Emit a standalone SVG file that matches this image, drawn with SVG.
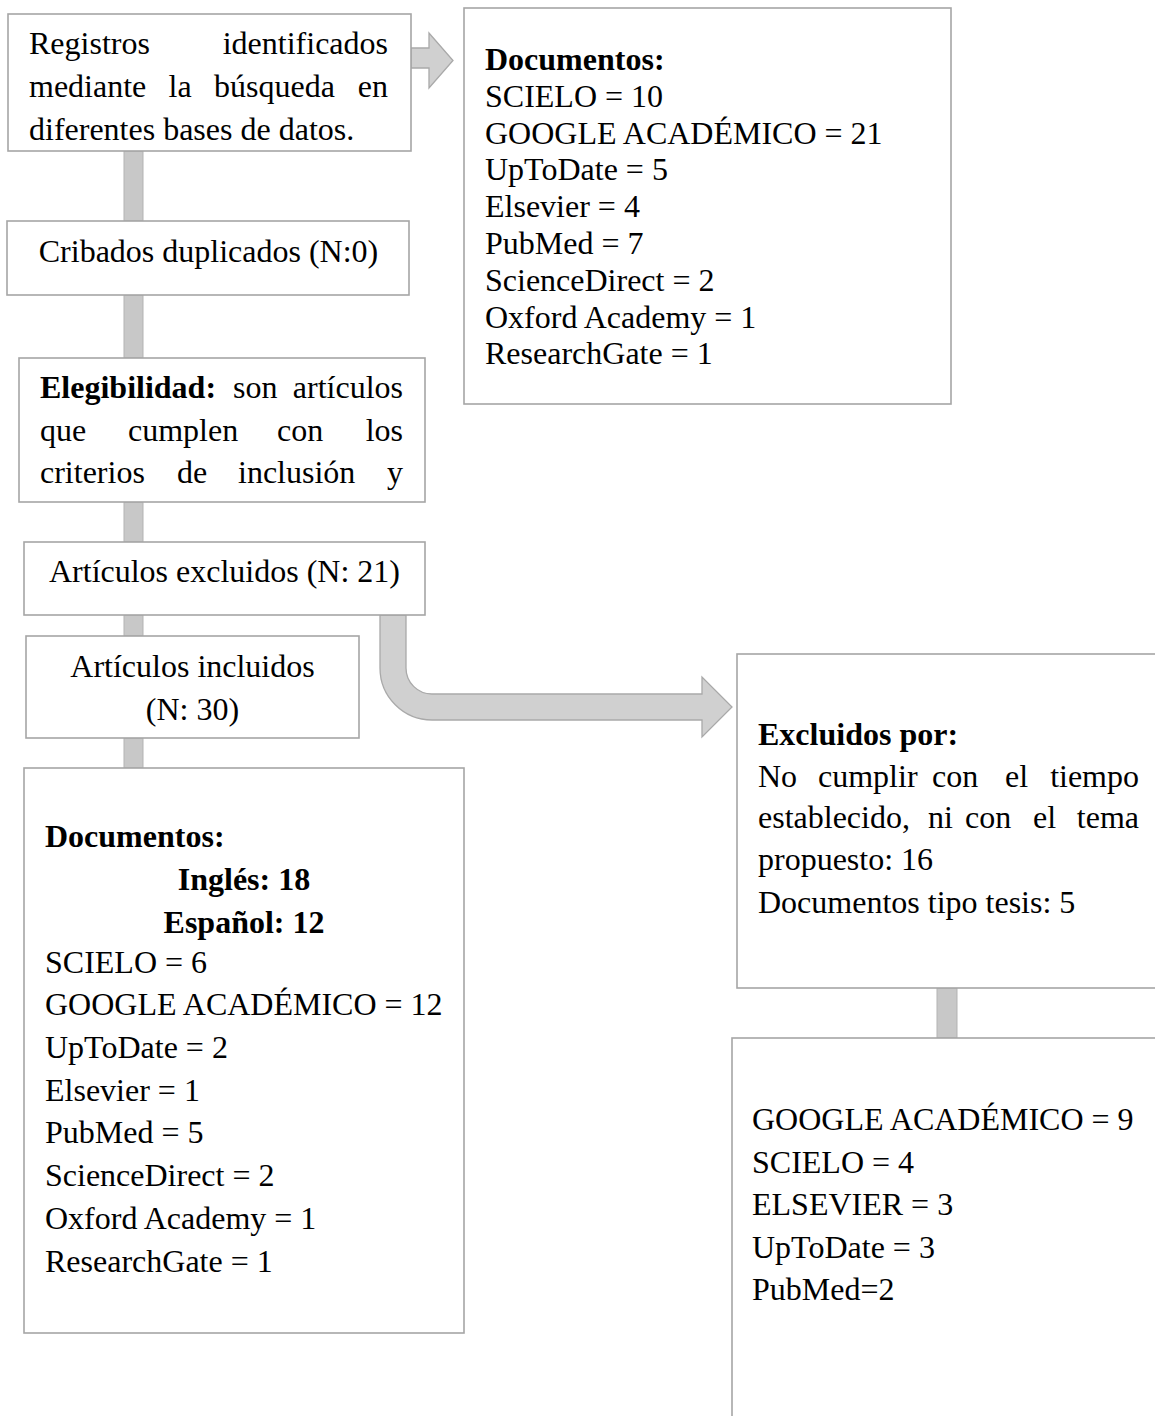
<svg xmlns="http://www.w3.org/2000/svg" width="1155" height="1416" viewBox="0 0 1155 1416">
<style>
.box{fill:#fff;stroke:#a6a6a6;stroke-width:1.6}
.bar{fill:#c8c8c8;stroke:#b3b3b3;stroke-width:1}
.arrow{fill:#d0d0d0;stroke:#a9a9a9;stroke-width:1.3;stroke-linejoin:miter}
text{font-family:"Liberation Serif","Times New Roman",serif;font-size:32px;fill:#000}
.b{font-weight:bold}
.m{text-anchor:middle}
.e{text-anchor:end}
</style>
<rect width="1155" height="1416" fill="#fff"/>
<g id="connectors">
<rect class="bar" x="124" y="151" width="19" height="70"/>
<rect class="bar" x="124" y="295" width="19" height="63"/>
<rect class="bar" x="124" y="502" width="19" height="40"/>
<rect class="bar" x="124" y="615" width="19" height="21"/>
<rect class="bar" x="124" y="738" width="19" height="30"/>
<rect class="bar" x="937" y="988" width="20" height="50"/>
<path class="arrow" d="M411 48 H429 V33 L453 60.5 L429 88 V68 H411 Z"/>
<path class="arrow" d="M380 615 V668 A52 52 0 0 0 432 720 H702 V737 L732 707 L702 677 V694 H432 A26 26 0 0 1 406 668 V615 Z"/>
</g>
<g id="node-registros">
<rect class="box" x="8" y="14" width="403" height="137"/>
<text x="29" y="54">Registros</text>
<text class="e" x="388" y="54">identificados</text>
<text x="29" y="97">mediante</text>
<text x="168.5" y="97">la</text>
<text x="214" y="97">búsqueda</text>
<text class="e" x="388" y="97">en</text>
<text x="29" y="140">diferentes bases de datos.</text>
</g>
<g id="node-documentos-top">
<rect class="box" x="464" y="8" width="487" height="396"/>
<text class="b" x="485" y="70">Documentos:</text>
<text x="485" y="107">SCIELO = 10</text>
<text x="485" y="144">GOOGLE ACADÉMICO = 21</text>
<text x="485" y="180">UpToDate = 5</text>
<text x="485" y="217">Elsevier = 4</text>
<text x="485" y="254">PubMed = 7</text>
<text x="485" y="291">ScienceDirect = 2</text>
<text x="485" y="328">Oxford Academy = 1</text>
<text x="485" y="364">ResearchGate = 1</text>
</g>
<g id="node-cribados">
<rect class="box" x="7" y="221" width="402" height="74"/>
<text class="m" x="208.5" y="262">Cribados duplicados (N:0)</text>
</g>
<g id="node-elegibilidad">
<rect class="box" x="19" y="358" width="406" height="144"/>
<text class="b" x="40" y="398">Elegibilidad:</text>
<text x="233" y="398">son</text>
<text class="e" x="403" y="398">artículos</text>
<text x="40" y="441">que</text>
<text x="128" y="441">cumplen</text>
<text x="277" y="441">con</text>
<text class="e" x="403" y="441">los</text>
<text x="40" y="483">criterios</text>
<text x="177" y="483">de</text>
<text x="238" y="483">inclusión</text>
<text class="e" x="403" y="483">y</text>
</g>
<g id="node-excluidos">
<rect class="box" x="24" y="542" width="401" height="73"/>
<text class="m" x="224.5" y="582">Artículos excluidos (N: 21)</text>
</g>
<g id="node-incluidos">
<rect class="box" x="26" y="636" width="333" height="102"/>
<text class="m" x="192.5" y="677">Artículos incluidos</text>
<text class="m" x="192.5" y="720">(N: 30)</text>
</g>
<g id="node-documentos-bottom">
<rect class="box" x="24" y="768" width="440" height="565"/>
<text class="b" x="45" y="847">Documentos:</text>
<text class="b m" x="244" y="890">Inglés: 18</text>
<text class="b m" x="244" y="933">Español: 12</text>
<text x="45" y="973">SCIELO = 6</text>
<text x="45" y="1015">GOOGLE ACADÉMICO = 12</text>
<text x="45" y="1058">UpToDate = 2</text>
<text x="45" y="1101">Elsevier = 1</text>
<text x="45" y="1143">PubMed = 5</text>
<text x="45" y="1186">ScienceDirect = 2</text>
<text x="45" y="1229">Oxford Academy = 1</text>
<text x="45" y="1272">ResearchGate = 1</text>
</g>
<g id="node-excluidos-por">
<rect class="box" x="737" y="654" width="430" height="334"/>
<text class="b" x="758" y="745">Excluidos por:</text>
<text x="758" y="787">No</text>
<text x="818" y="787">cumplir</text>
<text x="932" y="787">con</text>
<text x="1005" y="787">el</text>
<text class="e" x="1139" y="787">tiempo</text>
<text x="758" y="828">establecido,</text>
<text x="928" y="828">ni</text>
<text x="965" y="828">con</text>
<text x="1033" y="828">el</text>
<text class="e" x="1139" y="828">tema</text>
<text x="758" y="870">propuesto: 16</text>
<text x="758" y="913">Documentos tipo tesis: 5</text>
</g>
<g id="node-bases-excluidos">
<rect class="box" x="732" y="1038" width="440" height="400"/>
<text x="752" y="1130">GOOGLE ACADÉMICO = 9</text>
<text x="752" y="1173">SCIELO = 4</text>
<text x="752" y="1215">ELSEVIER = 3</text>
<text x="752" y="1258">UpToDate = 3</text>
<text x="752" y="1300">PubMed=2</text>
</g>
</svg>
